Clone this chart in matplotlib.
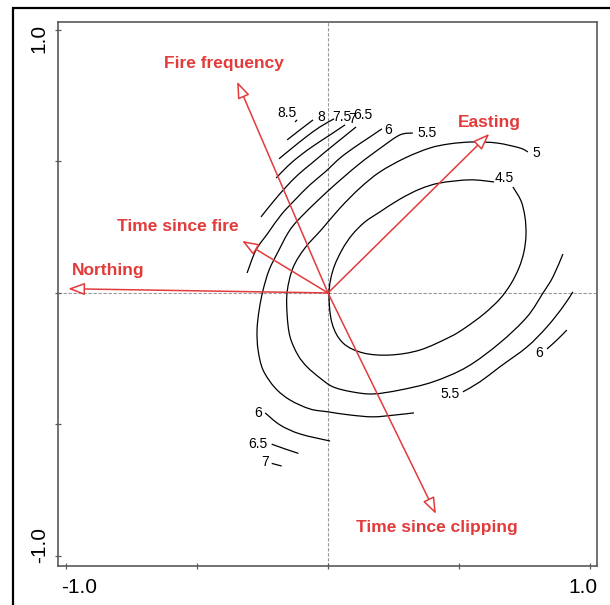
import matplotlib

matplotlib.use("Agg")
import matplotlib.pyplot as plt
import numpy as np
from matplotlib.patches import FancyArrowPatch, PathPatch, Rectangle
from matplotlib.path import Path

plt.rcParams["font.family"] = ["Liberation Sans", "DejaVu Sans"]

# environmental vectors (biplot arrows)
vec_names = ["Fire frequency", "Easting", "Time since fire", "Northing", "Time since clipping"]
vec_x = [-0.347, 0.616, -0.328, -0.992, 0.412]
vec_y = [0.803, 0.605, 0.198, 0.016, -0.840]

# fitted surface, traced contour pieces
c45_x = [0.706, 0.737, 0.752, 0.756, 0.748, 0.729, 0.698, 0.656, 0.595, 0.523, 0.466, 0.351,
         0.237, 0.134, 0.057, 0.015, 0.004, 0.019, 0.053, 0.092, 0.141, 0.198, 0.275, 0.351,
         0.427, 0.542, 0.634]
c45_y = [0.403, 0.350, 0.289, 0.221, 0.156, 0.095, 0.034, -0.023, -0.080, -0.133, -0.167, -0.217,
         -0.236, -0.228, -0.190, -0.114, 0.0, 0.087, 0.163, 0.221, 0.270, 0.308, 0.357, 0.395,
         0.418, 0.430, 0.422]

c5_x = [0.763, 0.733, 0.645, 0.553, 0.466, 0.389, 0.294, 0.198, 0.122, 0.046, -0.023, -0.088,
        -0.134, -0.156, -0.156, -0.145, -0.115, -0.080, -0.031, 0.019, 0.092, 0.172, 0.275,
        0.401, 0.531, 0.656, 0.760, 0.821, 0.859, 0.897]
c5_y = [0.536, 0.551, 0.570, 0.574, 0.567, 0.551, 0.513, 0.460, 0.399, 0.323, 0.243, 0.171,
        0.095, 0.004, -0.084, -0.167, -0.236, -0.281, -0.323, -0.357, -0.376, -0.384, -0.369,
        -0.338, -0.281, -0.190, -0.091, 0.0, 0.061, 0.148]

c55a_x = [0.324, 0.275, 0.206, 0.115, 0.008, -0.088, -0.145, -0.191, -0.225, -0.248, -0.263,
          -0.271, -0.267, -0.248, -0.202, -0.145, -0.069, 0.0, 0.084, 0.172, 0.256, 0.328]
c55a_y = [0.608, 0.601, 0.555, 0.487, 0.395, 0.304, 0.240, 0.156, 0.087, 0.011, -0.065,
          -0.141, -0.217, -0.293, -0.361, -0.407, -0.441, -0.452, -0.464, -0.471, -0.464, -0.456]
c55b_x = [0.515, 0.580, 0.656, 0.760, 0.836, 0.897, 0.935]
c55b_y = [-0.376, -0.338, -0.281, -0.205, -0.129, -0.053, 0.004]

c6a_x = [-0.309, -0.275, -0.229, -0.179, -0.126, -0.069, -0.011, 0.046, 0.103, 0.160, 0.206]
c6a_y = [0.076, 0.163, 0.228, 0.297, 0.354, 0.411, 0.460, 0.513, 0.555, 0.593, 0.624]
c6b_x = [-0.240, -0.183, -0.107, 0.008]
c6b_y = [-0.456, -0.502, -0.536, -0.563]
c6c_x = [0.836, 0.874, 0.912]
c6c_y = [-0.213, -0.179, -0.141]

c65a_x = [-0.256, -0.210, -0.164, -0.115, -0.061, -0.011, 0.046, 0.107]
c65a_y = [0.289, 0.346, 0.399, 0.449, 0.494, 0.536, 0.582, 0.631]
c65b_x = [-0.215, -0.164, -0.113]
c65b_y = [-0.575, -0.593, -0.610]

c7a_x = [-0.198, -0.153, -0.103, -0.050, 0.008, 0.065]
c7a_y = [0.437, 0.483, 0.525, 0.563, 0.601, 0.639]
c7b_x = [-0.215, -0.177]
c7b_y = [-0.648, -0.658]

c75_x = [-0.187, -0.137, -0.084, -0.031, 0.023]
c75_y = [0.510, 0.551, 0.593, 0.631, 0.662]

c8_x = [-0.156, -0.107, -0.057]
c8_y = [0.582, 0.620, 0.658]

c85_x = [-0.126, -0.118]
c85_y = [0.650, 0.658]

contour_x = [c45_x, c5_x, c55a_x, c55b_x, c6a_x, c6b_x, c6c_x, c65a_x, c65b_x,
             c7a_x, c7b_x, c75_x, c8_x, c85_x]
contour_y = [c45_y, c5_y, c55a_y, c55b_y, c6a_y, c6b_y, c6c_y, c65a_y, c65b_y,
             c7a_y, c7b_y, c75_y, c8_y, c85_y]

# contour labels and where they sit
clab_text = ["4.5", "5", "5.5", "5.5", "6", "6", "6", "6.5", "6.5", "7", "7", "7.5", "8", "8.5"]
clab_x = [0.672, 0.797, 0.377, 0.466, 0.228, -0.266, 0.807, 0.135, -0.266, 0.092, -0.240,
          0.052, -0.027, -0.158]
clab_y = [0.437, 0.533, 0.607, -0.386, 0.620, -0.457, -0.229, 0.678, -0.575, 0.662, -0.641,
          0.669, 0.669, 0.686]

vec_lab_x = [-0.397, 0.616, -0.573, -0.840, 0.416]
vec_lab_y = [0.873, 0.648, 0.251, 0.084, -0.890]

RED = "#E23B3B"


def smooth_path(xs, ys):
    """Bezier path through the traced points (Catmull-Rom tangents)."""
    p = np.column_stack([xs, ys])
    if len(p) < 3:
        return Path(p)
    ext = np.vstack([p[0], p, p[-1]])
    verts = [p[0]]
    codes = [Path.MOVETO]
    for i in range(len(p) - 1):
        p0, p1, p2, p3 = ext[i], ext[i + 1], ext[i + 2], ext[i + 3]
        verts += [p1 + (p2 - p0) / 6, p2 - (p3 - p1) / 6, p2]
        codes += [Path.CURVE4] * 3
    return Path(verts, codes)


fig = plt.figure(figsize=(6.1, 6.05), dpi=100)
ax = fig.add_axes([0.0951, 0.0645, 0.8844, 0.8991])

# outer frame, cut at right and bottom as in the source
fig.patches.append(Rectangle((0.022, -0.05), 1.2, 0.037 + 1.0,
                             transform=fig.transFigure, fill=False,
                             ec="black", lw=1.6))

ax.axhline(0, color="#999999", lw=0.8, ls=(0, (3, 1.5)), zorder=1)
ax.axvline(0, color="#999999", lw=0.8, ls=(0, (3, 1.5)), zorder=1)

for xs, ys in zip(contour_x, contour_y):
    ax.add_patch(PathPatch(smooth_path(xs, ys), fill=False, ec="black", lw=0.9, zorder=2))

for t, x, y in zip(clab_text, clab_x, clab_y):
    ax.text(x, y, t, fontsize=10, ha="center", va="center", zorder=3)

for x, y in zip(vec_x, vec_y):
    arr = FancyArrowPatch((0, 0), (x, y),
                          arrowstyle="-|>,head_length=0.4,head_width=0.15",
                          mutation_scale=25, shrinkA=0, shrinkB=0,
                          fc="white", ec=RED, lw=1.1, zorder=4)
    ax.add_patch(arr)

for name, x, y in zip(vec_names, vec_lab_x, vec_lab_y):
    ax.text(x, y, name, color=RED, fontsize=12.5, fontweight="bold",
            ha="center", va="center", zorder=5)

ax.set_xlim(-1.031, 1.029)
ax.set_ylim(-1.038, 1.030)
ticks = [-1.0, -0.5, 0.0, 0.5, 1.0]
ax.set_xticks(ticks)
ax.set_yticks(ticks)
ax.set_xticklabels([])
ax.set_yticklabels([])
ax.tick_params(direction="inout", length=4.5, width=0.9, color="#5a5a5a")
for sp in ax.spines.values():
    sp.set_color("#5a5a5a")
    sp.set_linewidth(1.2)

# R-style end labels only
ax.text(-0.950, -1.120, "-1.0", fontsize=15, ha="center", va="center", clip_on=False)
ax.text(0.973, -1.120, "1.0", fontsize=15, ha="center", va="center", clip_on=False)
ax.text(-1.103, 0.966, "1.0", fontsize=15, ha="center", va="center", rotation=90, clip_on=False)
ax.text(-1.103, -0.960, "-1.0", fontsize=15, ha="center", va="center", rotation=90, clip_on=False)

fig.savefig("out.png", dpi=100)
